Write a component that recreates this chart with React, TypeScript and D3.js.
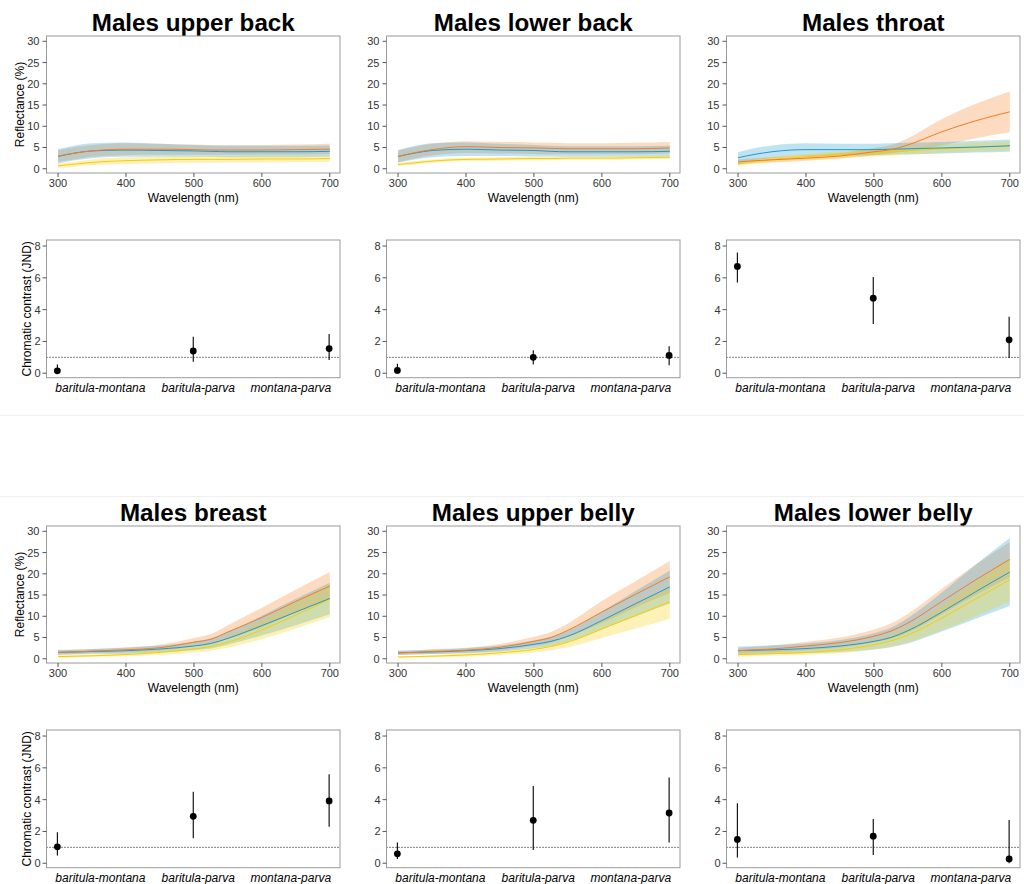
import React from 'react';
import * as d3 from 'd3';

// wavelengths at which the smoothed spectra were read
const WAVELENGTHS = [300, 325, 350, 400, 450, 500, 525, 550, 600, 650, 700];
const WL_TICKS = [300, 400, 500, 600, 700];
const REFL_TICKS = [0, 5, 10, 15, 20, 25, 30];
const JND_TICKS = [0, 2, 4, 6, 8];
const PAIRS = ['baritula-montana', 'baritula-parva', 'montana-parva'];
const SPECIES = ['baritula', 'montana', 'parva'];
const TITLES = [
  'Males upper back', 'Males lower back', 'Males throat',
  'Males breast', 'Males upper belly', 'Males lower belly',
];

// spectra: mean, lower and upper band per species
const upperBackBaritula = {
  mean: [3.0, 3.7, 4.2, 4.6, 4.6, 4.5, 4.4, 4.4, 4.4, 4.5, 4.6],
  lo: [1.6, 2.2, 2.8, 3.2, 3.3, 3.3, 3.3, 3.3, 3.3, 3.3, 3.4],
  hi: [4.4, 5.1, 5.6, 6.0, 5.9, 5.7, 5.6, 5.6, 5.6, 5.7, 5.9],
};
const upperBackMontana = {
  mean: [2.9, 3.7, 4.2, 4.4, 4.3, 4.2, 4.1, 4.0, 4.0, 4.0, 4.1],
  lo: [1.2, 2.0, 2.5, 2.8, 2.8, 2.8, 2.8, 2.7, 2.7, 2.7, 2.8],
  hi: [4.6, 5.5, 6.0, 6.2, 5.9, 5.6, 5.5, 5.4, 5.4, 5.4, 5.5],
};
const upperBackParva = {
  mean: [0.7, 1.1, 1.5, 1.9, 2.1, 2.2, 2.2, 2.2, 2.3, 2.3, 2.4],
  lo: [0.2, 0.5, 0.8, 1.1, 1.3, 1.4, 1.4, 1.5, 1.5, 1.6, 1.6],
  hi: [1.2, 1.7, 2.2, 2.7, 2.9, 3.0, 3.0, 3.0, 3.1, 3.1, 3.2],
};

const lowerBackBaritula = {
  mean: [2.9, 3.8, 4.5, 5.2, 5.0, 4.9, 4.8, 4.7, 4.7, 4.7, 4.9],
  lo: [1.5, 2.4, 3.1, 3.7, 3.6, 3.5, 3.4, 3.4, 3.4, 3.4, 3.6],
  hi: [4.3, 5.2, 5.9, 6.5, 6.3, 6.2, 6.1, 6.0, 6.0, 6.1, 6.3],
};
const lowerBackMontana = {
  mean: [2.9, 3.7, 4.3, 4.6, 4.4, 4.3, 4.1, 4.0, 4.0, 4.0, 4.1],
  lo: [1.5, 2.2, 2.7, 3.0, 3.0, 2.9, 2.9, 2.8, 2.8, 2.8, 2.9],
  hi: [4.4, 5.4, 6.0, 6.2, 5.9, 5.6, 5.4, 5.3, 5.3, 5.3, 5.4],
};
const lowerBackParva = {
  mean: [1.0, 1.4, 1.8, 2.2, 2.3, 2.4, 2.4, 2.5, 2.5, 2.6, 2.7],
  lo: [0.7, 1.0, 1.4, 1.8, 1.9, 2.0, 2.0, 2.1, 2.1, 2.2, 2.3],
  hi: [1.3, 1.8, 2.2, 2.6, 2.7, 2.8, 2.8, 2.9, 2.9, 3.0, 3.1],
};

const throatBaritula = {
  mean: [1.6, 1.9, 2.1, 2.5, 3.0, 4.0, 4.5, 5.6, 8.7, 11.3, 13.4],
  lo: [1.0, 1.3, 1.5, 1.9, 2.4, 3.2, 3.6, 4.2, 5.5, 7.2, 8.6],
  hi: [2.2, 2.5, 2.7, 3.1, 3.7, 4.9, 5.6, 7.2, 11.7, 15.3, 18.2],
};
const throatMontana = {
  mean: [2.6, 3.4, 4.0, 4.5, 4.5, 4.5, 4.6, 4.7, 4.9, 5.1, 5.4],
  lo: [1.3, 2.0, 2.5, 3.0, 3.1, 3.2, 3.3, 3.4, 3.6, 3.8, 4.0],
  hi: [3.9, 4.9, 5.5, 6.0, 5.9, 5.9, 6.0, 6.1, 6.3, 6.6, 6.9],
};
const throatParva = {
  mean: [1.1, 1.7, 2.2, 2.8, 3.3, 3.8, 4.0, 4.2, 4.7, 5.1, 5.4],
  lo: [0.7, 1.2, 1.6, 2.1, 2.5, 2.9, 3.1, 3.3, 3.7, 4.0, 4.3],
  hi: [1.5, 2.2, 2.8, 3.5, 4.1, 4.7, 4.9, 5.1, 5.7, 6.2, 6.5],
};

const breastBaritula = {
  mean: [1.5, 1.6, 1.8, 2.1, 2.6, 3.9, 4.6, 6.3, 9.7, 13.5, 17.1],
  lo: [1.0, 1.1, 1.3, 1.5, 1.9, 2.9, 3.4, 4.7, 7.4, 10.8, 14.0],
  hi: [2.0, 2.1, 2.3, 2.7, 3.3, 4.9, 5.8, 7.9, 12.0, 16.3, 20.4],
};
const breastMontana = {
  mean: [1.5, 1.6, 1.7, 1.9, 2.3, 3.0, 3.6, 4.8, 7.8, 11.0, 14.2],
  lo: [0.9, 1.0, 1.1, 1.2, 1.5, 2.0, 2.4, 3.3, 5.5, 7.9, 10.5],
  hi: [2.1, 2.2, 2.3, 2.6, 3.1, 4.0, 4.8, 6.3, 10.1, 14.1, 17.9],
};
const breastParva = {
  mean: [0.5, 0.6, 0.7, 1.0, 1.5, 2.3, 2.9, 3.9, 6.8, 10.3, 14.0],
  lo: [0.2, 0.3, 0.4, 0.6, 0.9, 1.5, 1.9, 2.6, 4.6, 7.1, 9.8],
  hi: [0.8, 0.9, 1.0, 1.4, 2.1, 3.1, 3.9, 5.2, 9.0, 13.5, 17.6],
};

const upperBellyBaritula = {
  mean: [1.4, 1.5, 1.7, 2.0, 2.7, 4.1, 5.0, 6.7, 11.0, 15.2, 19.3],
  lo: [0.9, 1.0, 1.1, 1.4, 1.9, 3.0, 3.7, 5.1, 8.4, 12.1, 15.5],
  hi: [1.9, 2.0, 2.3, 2.6, 3.5, 5.2, 6.3, 8.3, 13.6, 18.3, 23.0],
};
const upperBellyMontana = {
  mean: [1.4, 1.5, 1.6, 1.9, 2.4, 3.4, 4.1, 5.3, 9.0, 13.0, 16.9],
  lo: [0.9, 1.0, 1.1, 1.3, 1.7, 2.5, 3.0, 4.0, 6.9, 10.0, 13.0],
  hi: [1.9, 2.0, 2.1, 2.5, 3.1, 4.3, 5.2, 6.6, 11.1, 16.0, 20.8],
};
const upperBellyParva = {
  mean: [0.4, 0.5, 0.6, 0.9, 1.4, 2.2, 2.9, 3.9, 7.0, 10.2, 13.4],
  lo: [0.2, 0.3, 0.3, 0.5, 0.9, 1.5, 2.0, 2.7, 4.9, 7.1, 9.4],
  hi: [0.6, 0.7, 0.9, 1.3, 1.9, 2.9, 3.8, 5.1, 9.1, 13.3, 16.6],
};

const lowerBellyBaritula = {
  mean: [1.9, 2.1, 2.3, 3.0, 3.8, 5.3, 6.5, 8.4, 13.5, 18.6, 23.4],
  lo: [1.2, 1.4, 1.5, 2.0, 2.6, 3.8, 4.7, 6.2, 10.5, 15.0, 19.2],
  hi: [2.6, 2.8, 3.1, 4.0, 5.0, 6.9, 8.3, 10.6, 16.5, 22.2, 27.5],
};
const lowerBellyMontana = {
  mean: [1.9, 2.0, 2.1, 2.4, 3.0, 4.1, 5.0, 6.6, 11.0, 15.8, 20.4],
  lo: [0.9, 1.0, 1.1, 1.3, 1.6, 2.2, 2.7, 3.6, 6.4, 9.4, 12.4],
  hi: [2.9, 3.0, 3.2, 3.6, 4.4, 6.0, 7.3, 9.6, 15.6, 22.2, 28.4],
};
const lowerBellyParva = {
  mean: [1.0, 1.1, 1.2, 1.5, 2.1, 3.3, 4.2, 5.6, 9.6, 14.1, 18.6],
  lo: [0.5, 0.6, 0.7, 0.9, 1.3, 2.2, 2.8, 3.8, 6.7, 10.0, 13.5],
  hi: [1.5, 1.6, 1.8, 2.1, 2.9, 4.4, 5.6, 7.4, 12.5, 18.2, 23.5],
};

// chromatic contrast (JND) estimate with interval, per pair
const upperBackJnd = { est: [0.15, 1.4, 1.55], lo: [0.0, 0.73, 0.83], hi: [0.55, 2.3, 2.47] };
const lowerBackJnd = { est: [0.18, 1.0, 1.12], lo: [0.0, 0.55, 0.5], hi: [0.6, 1.45, 1.7] };
const throatJnd = { est: [6.72, 4.72, 2.1], lo: [5.7, 3.1, 0.96], hi: [7.6, 6.05, 3.55] };
const breastJnd = { est: [1.03, 2.95, 3.92], lo: [0.48, 1.57, 2.3], hi: [1.95, 4.5, 5.6] };
const upperBellyJnd = { est: [0.59, 2.7, 3.16], lo: [0.27, 0.84, 1.3], hi: [1.3, 4.86, 5.4] };
const lowerBellyJnd = { est: [1.5, 1.7, 0.27], lo: [0.36, 0.52, 0.0], hi: [3.77, 2.79, 2.72] };

const spectraByPanel = [
  [upperBackBaritula, upperBackMontana, upperBackParva],
  [lowerBackBaritula, lowerBackMontana, lowerBackParva],
  [throatBaritula, throatMontana, throatParva],
  [breastBaritula, breastMontana, breastParva],
  [upperBellyBaritula, upperBellyMontana, upperBellyParva],
  [lowerBellyBaritula, lowerBellyMontana, lowerBellyParva],
];
const jndByPanel = [upperBackJnd, lowerBackJnd, throatJnd, breastJnd, upperBellyJnd, lowerBellyJnd];

const speciesColor = d3.scaleOrdinal<string, string>()
  .domain(SPECIES)
  .range(['#f47d20', '#1e9ad0', '#f7cd00']);

const FONT = '"Liberation Sans", Arial, sans-serif';
const COL_W = 340;
const ROW_H = 490;
const BOX_L = 46.5;
const SPEC_TOP = 36, SPEC_BOTTOM = 173;
const JND_TOP = 240, JND_BOTTOM = 377.7;
const BORDER = '#9a9a9a';
const TICK_TXT = '#333';

// category labels: first flush left, middle centred, last flush right
const LABEL_ANCHOR = ['start', 'middle', 'end'];
const LABEL_SHIFT = [-2, 5, 2];

type Series = { mean: number[]; lo: number[]; hi: number[] };
type Jnd = { est: number[]; lo: number[]; hi: number[] };

function Panel({ idx, title, spectra, jnd }: { idx: number; title: string; spectra: Series[]; jnd: Jnd }) {
  const col = idx % 3;
  const row = Math.floor(idx / 3);
  const x0 = col * COL_W;
  const y0 = row * ROW_H;
  const left = x0 + BOX_L;
  const right = x0 + COL_W;

  const x = d3.scaleLinear().domain([283, 715]).range([left, right]);
  const y = d3.scaleLinear().domain([-1.0, 31.25]).range([y0 + SPEC_BOTTOM, y0 + SPEC_TOP]);
  const xc = d3.scalePoint<string>().domain(PAIRS).range([left, right]).padding(0.08);
  const yj = d3.scaleLinear().domain([-0.28, 8.38]).range([y0 + JND_BOTTOM, y0 + JND_TOP]);

  const area = d3.area<number>()
    .x((_, i) => x(WAVELENGTHS[i]))
    .curve(d3.curveMonotoneX);
  const line = d3.line<number>()
    .x((_, i) => x(WAVELENGTHS[i]))
    .y((d) => y(d))
    .curve(d3.curveMonotoneX);

  return (
    <g>
      <text x={(left + right) / 2} y={y0 + 31} textAnchor="middle" fontFamily={FONT}
        fontWeight="bold" fontSize={24.2} fill="#000">{title}</text>

      {/* spectra */}
      <g>
        {[0, 1, 2].map((s) => {
          const ser = spectra[s];
          const a = area.y0((_, i) => y(ser.lo[i])).y1((_, i) => y(ser.hi[i]));
          return <path key={'r' + s} d={a(ser.mean) || ''} fill={speciesColor(SPECIES[s])} fillOpacity={0.28} />;
        })}
        {[2, 1, 0].map((s) => (
          <path key={'l' + s} d={line(spectra[s].mean) || ''} fill="none"
            stroke={speciesColor(SPECIES[s])} strokeWidth={1} />
        ))}
        <rect x={left} y={y0 + SPEC_TOP} width={right - left} height={SPEC_BOTTOM - SPEC_TOP}
          fill="none" stroke={BORDER} strokeWidth={1} />
        {REFL_TICKS.map((t) => (
          <g key={'yt' + t}>
            <line x1={left - 4} x2={left} y1={y(t)} y2={y(t)} stroke="#555" />
            <text x={left - 7} y={y(t)} dy="0.36em" textAnchor="end" fontFamily={FONT}
              fontSize={11} fill={TICK_TXT}>{t}</text>
          </g>
        ))}
        {WL_TICKS.map((t) => (
          <g key={'xt' + t}>
            <line x1={x(t)} x2={x(t)} y1={y0 + SPEC_BOTTOM} y2={y0 + SPEC_BOTTOM + 4} stroke="#555" />
            <text x={x(t)} y={y0 + SPEC_BOTTOM + 14} textAnchor="middle" fontFamily={FONT}
              fontSize={11} fill={TICK_TXT}>{t}</text>
          </g>
        ))}
        <text x={(left + right) / 2} y={y0 + 202} textAnchor="middle" fontFamily={FONT}
          fontSize={12} fill="#000">Wavelength (nm)</text>
        {col === 0 && (
          <text transform={`translate(${x0 + 20},${y0 + (SPEC_TOP + SPEC_BOTTOM) / 2}) rotate(-90)`}
            dy="0.36em" textAnchor="middle" fontFamily={FONT} fontSize={12} fill="#000">Reflectance (%)</text>
        )}
      </g>

      {/* chromatic contrast */}
      <g>
        <line x1={left} x2={right} y1={yj(1)} y2={yj(1)} stroke="#000" strokeWidth={1}
          strokeDasharray="1,2" />
        {PAIRS.map((p, i) => (
          <g key={p}>
            <line x1={xc(p)} x2={xc(p)} y1={yj(jnd.lo[i])} y2={yj(jnd.hi[i])} stroke="#000" strokeWidth={1.1} />
            <circle cx={xc(p)} cy={yj(jnd.est[i])} r={3.4} fill="#000" />
          </g>
        ))}
        <rect x={left} y={y0 + JND_TOP} width={right - left} height={JND_BOTTOM - JND_TOP}
          fill="none" stroke={BORDER} strokeWidth={1} />
        {JND_TICKS.map((t) => (
          <g key={'jt' + t}>
            <line x1={left - 4} x2={left} y1={yj(t)} y2={yj(t)} stroke="#555" />
            <text x={left - 6} y={yj(t)} dy="0.36em" textAnchor="end" fontFamily={FONT}
              fontSize={11} fill={TICK_TXT}>{t}</text>
          </g>
        ))}
        {PAIRS.map((p, i) => (
          <text key={'c' + p} x={(xc(p) || 0) + LABEL_SHIFT[i]} y={y0 + 392} textAnchor={LABEL_ANCHOR[i]}
            fontFamily={FONT} fontStyle="italic" fontSize={12} fill="#000">{p}</text>
        ))}
        {col === 0 && (
          <text transform={`translate(${x0 + 26.5},${y0 + (JND_TOP + JND_BOTTOM) / 2}) rotate(-90)`}
            dy="0.36em" textAnchor="middle" fontFamily={FONT} fontSize={12} fill="#000">Chromatic contrast (JND)</text>
        )}
      </g>
    </g>
  );
}

export default function App() {
  return (
    <svg width={1024} height={884} style={{ position: 'absolute', left: 0, top: 0, background: '#fff' }}>
      <rect width={1024} height={884} fill="#fff" />
      <line x1={0} x2={1024} y1={415.5} y2={415.5} stroke="#efefef" />
      <line x1={0} x2={1024} y1={496.5} y2={496.5} stroke="#efefef" />
      {TITLES.map((t, i) => (
        <Panel key={t} idx={i} title={t} spectra={spectraByPanel[i]} jnd={jndByPanel[i]} />
      ))}
    </svg>
  );
}
